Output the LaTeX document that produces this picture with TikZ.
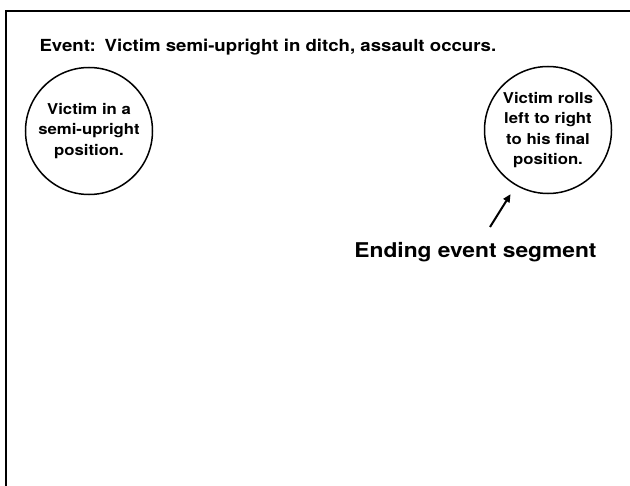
\documentclass[tikz,border=0pt]{standalone}
\usepackage{fontspec}
\setmainfont{TeX Gyre Heros}[FakeStretch=1.12]
\usetikzlibrary{arrows.meta}

\begin{document}
\begin{tikzpicture}[x=1bp, y=-1bp,
  every node/.style={font=\bfseries\fontsize{15}{20.5}\selectfont},
  bubble/.style={draw, circle, line width=1.5bp, align=center, inner sep=0pt, minimum size=127bp}
]
  \useasboundingbox (0,0) rectangle (630,486);
  \draw[line width=2bp] (6.3,486) -- (6.3,11) -- (630,11);

  \node[anchor=base west, font=\bfseries\fontsize{16.7}{20}\selectfont] (title) at (36,52)
    {Event:\hspace{9bp}Victim semi-upright in ditch, assault occurs.};
  \node[bubble] (upright) at (89,131) {Victim in a\\semi-upright\\position.};
  \node[bubble] (rolls) at (548,130) {Victim rolls\\left to right\\to his final\\position.};
  \node[anchor=base, font=\bfseries\fontsize{20.4}{24}\selectfont] (ending) at (475.5,257) {Ending event segment};

  \coordinate (tail) at (490,227);
  \draw[-{Triangle[length=8bp, width=7bp]}, line width=2bp, shorten >=10bp] (tail) -- (rolls.240);
\end{tikzpicture}
\end{document}
